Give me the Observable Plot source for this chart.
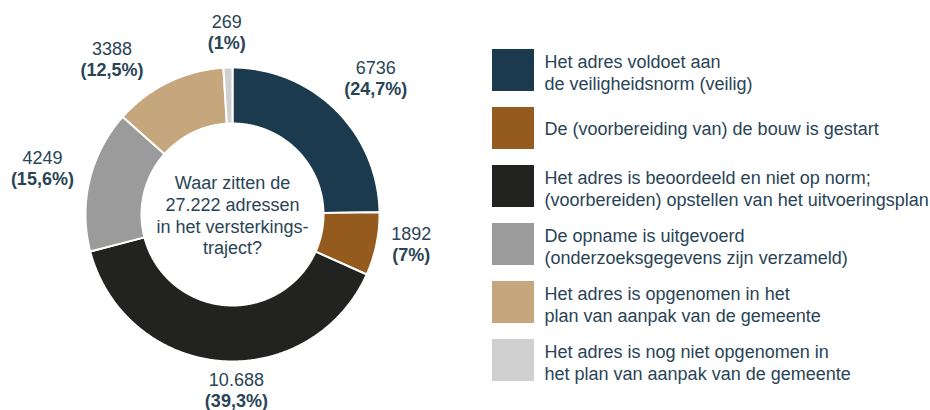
<!DOCTYPE html>
<html>
<head>
<meta charset="utf-8">
<script src="https://cdn.jsdelivr.net/npm/d3@7"></script>
<script src="https://cdn.jsdelivr.net/npm/@observablehq/plot@0.6"></script>
<style>
  html, body { margin: 0; padding: 0; background: #ffffff; }
  #chart { width: 930px; height: 410px; }
</style>
</head>
<body>
<div id="chart"></div>
<script>
// ---- data ----
const categories = [
  "Het adres voldoet aan\nde veiligheidsnorm (veilig)",
  "De (voorbereiding van) de bouw is gestart",
  "Het adres is beoordeeld en niet op norm;\n(voorbereiden) opstellen van het uitvoeringsplan",
  "De opname is uitgevoerd\n(onderzoeksgegevens zijn verzameld)",
  "Het adres is opgenomen in het\nplan van aanpak van de gemeente",
  "Het adres is nog niet opgenomen in\nhet plan van aanpak van de gemeente"
];
const values = [6736, 1892, 10688, 4249, 3388, 269];
const valueLabels = ["6736", "1892", "10.688", "4249", "3388", "269"];
const percents = [24.7, 7, 39.3, 15.6, 12.5, 1];
const colors = ["#1b3a4d", "#955a1e", "#222220", "#9b9b9b", "#c6a67c", "#cfd0cf"];
const centerTitle = "Waar zitten de\n27.222 adressen\nin het versterkings-\ntraject?";

// ---- layout ----
const W = 930, H = 410;
const cx = 232, cy = 214, rOuter = 147, rInner = 91;
const textColor = "#294456";
const fontFamily = "'Liberation Sans', Arial, Helvetica, sans-serif";
const angleNudge = [2, -2, -6, 0, -12, 0]; // degrees, manual label placement tweaks

const fmtPct = p => "(" + String(p).replace(".", ",") + "%)";
const total = d3.sum(values);

// slices as polygons
let acc = 0;
const slices = values.map((v, i) => {
  const a0 = acc / total * 2 * Math.PI;
  acc += v;
  const a1 = acc / total * 2 * Math.PI;
  return {i, cat: categories[i], a0, a1};
});
const pts = [];
for (const s of slices) {
  const n = Math.max(2, Math.ceil((s.a1 - s.a0) / (Math.PI / 360)));
  for (let k = 0; k <= n; k++) {
    const a = s.a0 + (s.a1 - s.a0) * k / n;
    pts.push({cat: s.cat, x: cx + rOuter * Math.sin(a), y: cy - rOuter * Math.cos(a)});
  }
  for (let k = n; k >= 0; k--) {
    const a = s.a0 + (s.a1 - s.a0) * k / n;
    pts.push({cat: s.cat, x: cx + rInner * Math.sin(a), y: cy - rInner * Math.cos(a)});
  }
}

// outside labels
const labels = slices.map(s => {
  const mid = (s.a0 + s.a1) / 2 + angleNudge[s.i] * Math.PI / 180;
  const sx = Math.sin(mid), cy_ = Math.cos(mid);
  const vl = valueLabels[s.i], pl = fmtPct(percents[s.i]);
  const w = Math.max(vl.length, pl.length) * 9;
  const h = 42;
  const r = 160 + Math.abs(sx) * w / 2 + Math.abs(cy_) * h / 2;
  const x = cx + sx * r;
  const y = Math.min(cy - cy_ * r, H - 20);
  return {x, y, value: vl, pct: pl};
});

// legend
const legend = categories.map((c, i) => ({
  cat: c,
  x1: 492, x2: 534,
  y1: 49 + i * 58, y2: 91 + i * 58,
  ty: 70 + i * 58 + (c.includes("\n") ? 1.5 : 0)
}));

const chart = Plot.plot({
  width: W,
  height: H,
  margin: 0,
  x: {domain: [0, W], range: [0, W], axis: null},
  y: {domain: [0, H], range: [0, H], axis: null},
  color: {domain: categories, range: colors},
  style: {fontFamily, fontSize: "18px", background: "#ffffff"},
  marks: [
    Plot.line(pts, {
      x: "x", y: "y", z: "cat", fill: "cat",
      stroke: "#ffffff", strokeWidth: 2, strokeLinejoin: "round",
      curve: "linear-closed"
    }),
    Plot.text([centerTitle], {
      x: cx, y: cy, text: d => d,
      fontSize: 18, lineHeight: 1.22, fill: textColor, textAnchor: "middle"
    }),
    Plot.text(labels, {
      x: "x", y: d => d.y - 10.5, text: "value",
      fontSize: 18, fill: textColor, textAnchor: "middle"
    }),
    Plot.text(labels, {
      x: "x", y: d => d.y + 10.5, text: "pct",
      fontSize: 18, fontWeight: "bold", fill: textColor, textAnchor: "middle"
    }),
    Plot.rect(legend, {x1: "x1", x2: "x2", y1: "y1", y2: "y2", fill: "cat"}),
    Plot.text(legend, {
      x: 544, y: "ty", text: "cat",
      fontSize: 18, lineHeight: 1.2, fill: textColor, textAnchor: "start"
    })
  ]
});
document.getElementById("chart").appendChild(chart);
</script>
</body>
</html>
